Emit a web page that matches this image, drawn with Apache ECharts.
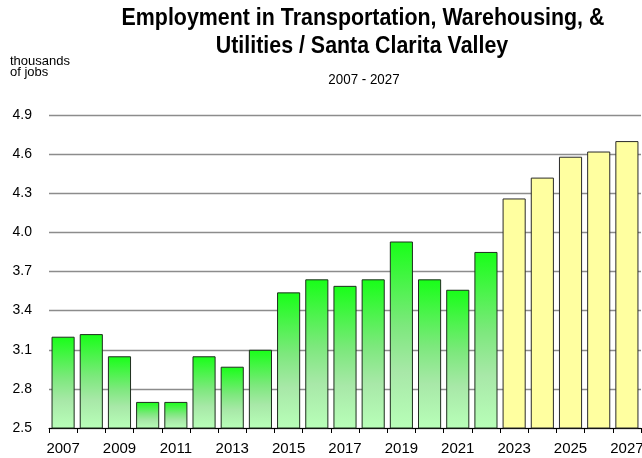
<!DOCTYPE html>
<html>
<head>
<meta charset="utf-8">
<script src="https://cdn.jsdelivr.net/npm/echarts@6/dist/echarts.min.js"></script>
<style>html,body{margin:0;padding:0;background:#fff;overflow:hidden;}#c{width:642px;height:458px;}</style>
</head>
<body>
<div id="c"></div>
<script>
const years = ['2007','2008','2009','2010','2011','2012','2013','2014','2015','2016','2017','2018','2019','2020','2021','2022','2023','2024','2025','2026','2027'];
const actualValues = [3.20,3.22,3.05,2.70,2.70,3.05,2.97,3.10,3.54,3.64,3.59,3.64,3.93,3.64,3.56,3.85];
const forecastValues = [4.26,4.42,4.58,4.62,4.70];
const yTicks = [2.5,2.8,3.1,3.4,3.7,4.0,4.3,4.6,4.9];

const FONT = "'Liberation Sans',Arial,sans-serif";
const nA = actualValues.length;
const actualData = years.map((y,i)=> i < nA ? actualValues[i] : '-');
const forecastData = years.map((y,i)=> i >= nA ? forecastValues[i-nA] : '-');

function txt(text, x, y, size, weight, sx, align){
  return {type:'text', x:x, y:y, scaleX:sx, silent:true,
    style:{text:text, fill:'#000', font: weight+' '+size+'px '+FONT, textAlign:align, textVerticalAlign:'middle'}};
}

const chart = echarts.init(document.getElementById('c'), null, {renderer:'canvas', width:642, height:458});
chart.setOption({
  animation:false,
  backgroundColor:'#fff',
  graphic:[
    txt('Employment in Transportation, Warehousing, &', 363, 19, 23, 'bold', 0.93, 'center'),
    txt('Utilities / Santa Clarita Valley', 362, 47, 23, 'bold', 0.93, 'center'),
    txt('2007 - 2027', 364, 80, 15, 'normal', 0.89, 'center'),
    txt('thousands', 10, 61, 13, 'normal', 1, 'left'),
    txt('of jobs', 10, 72.5, 13, 'normal', 1, 'left')
  ],
  grid:{left:49, right:1, top:115, bottom:30, containLabel:false, outerBoundsMode:'none'},
  xAxis:{
    type:'category', data:years,
    axisLine:{show:true, lineStyle:{color:'#000', width:1}},
    axisTick:{show:true, interval:0, length:5, lineStyle:{color:'#000'}},
    axisLabel:{interval:1, margin:13, fontFamily:FONT, fontSize:15, color:'#000', hideOverlap:false}
  },
  yAxis:{
    type:'value', min:2.5, max:4.9,
    axisLine:{show:false},
    axisTick:{show:false, customValues:yTicks},
    axisLabel:{customValues:yTicks, margin:17, fontFamily:FONT, fontSize:14, color:'#000', formatter:v=>v.toFixed(1)},
    splitLine:{show:true, lineStyle:{color:'#8c8c8c', width:1.3}}
  },
  series:[
    {type:'bar', data:actualData, barCategoryGap:'18%', barGap:'-100%',
     itemStyle:{borderColor:'#1e2e1e', borderWidth:1,
       color:new echarts.graphic.LinearGradient(0,0,0,1,[
         {offset:0,color:'#18ff18'},{offset:0.45,color:'#7de87d'},{offset:0.7,color:'#a8e8a8'},{offset:1,color:'#b8ffb8'}])}},
    {type:'bar', data:forecastData, barCategoryGap:'18%', barGap:'-100%',
     itemStyle:{color:'#ffffa0', borderColor:'#2a2a2a', borderWidth:1}}
  ]
});
</script>
</body>
</html>
